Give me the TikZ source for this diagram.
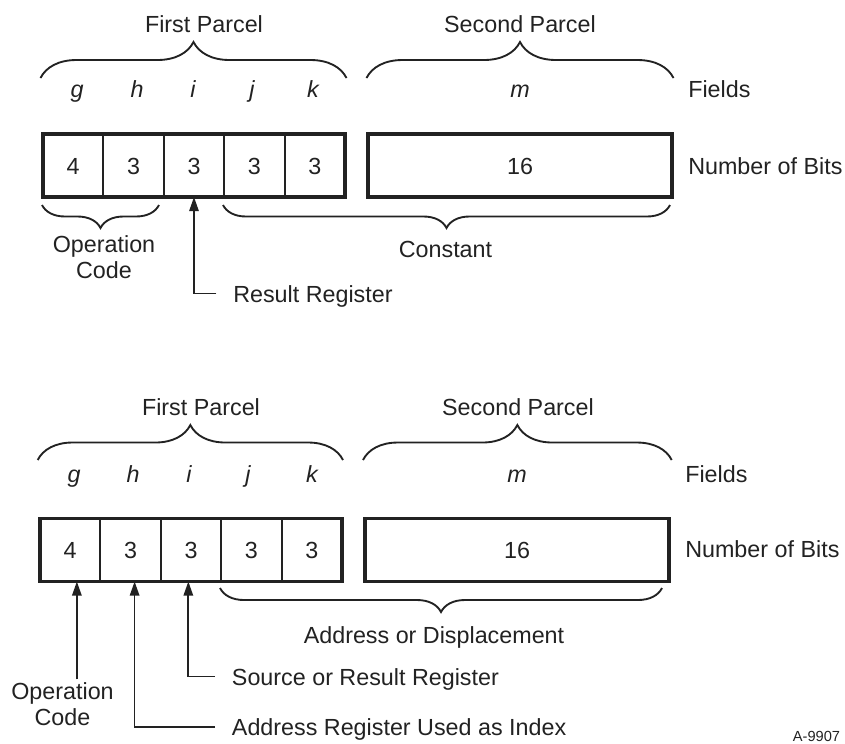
\documentclass[tikz,border=0pt]{standalone}
\usepackage{fontspec}
\setmainfont{Liberation Sans}
\usetikzlibrary{arrows.meta,decorations.pathreplacing}
\definecolor{ink}{HTML}{222222}

\tikzset{
  txt/.style={text=ink, inner sep=0.1cm, font=\fontsize{19.9pt}{22.2pt}\selectfont},
  lbl/.style={txt, text height=14.5pt, text depth=0pt},
  fld/.style={lbl, font=\fontsize{19.9pt}{22.2pt}\selectfont\itshape},
  cell/.style={lbl, draw=ink, line width=1.6pt, minimum width=1.812cm, minimum height=1.89cm, outer sep=0pt},
  boxline/.style={draw=ink, line width=2.6pt},
  brc/.style={draw=ink, line width=1.6pt, decorate, decoration={brace, amplitude=#1}},
  arr/.style={draw=ink, line width=1.5pt, -{Triangle[length=12pt, width=8pt]}},
}

\begin{document}
\begin{tikzpicture}[x=0.03cm, y=-0.03cm]
\useasboundingbox (0,0) rectangle (845,743);

% First format: parcels
\node[lbl] (fp1) at (204,23.5) {First Parcel};
\node[lbl] (sp1) at (520,23.5) {Second Parcel};
\draw[brc=1.08cm] (40.5,78) -- (346.5,78);
\draw[brc=1.08cm] (366.5,78) -- (673.5,78);

% First format: fields
\node[fld] (fg1) at (77,88.5) {g};
\node[fld] (fh1) at (137,88.5) {h};
\node[fld] (fi1) at (193,88.5) {i};
\node[fld] (fj1) at (252,88.5) {j};
\node[fld] (fk1) at (313,88.5) {k};
\node[fld] (fm1) at (520,88.5) {m};
\node[lbl, anchor=west] (fl1) at (684.7,89) {Fields};

% First format: bits
\node[cell] (g1) at (73.2,165.5) {4};
\node[cell] (h1) at (133.6,165.5) {3};
\node[cell] (i1) at (194,165.5) {3};
\node[cell] (j1) at (254.4,165.5) {3};
\node[cell] (k1) at (314.8,165.5) {3};
\draw[boxline] (g1.north west) rectangle (k1.south east);
\node[cell, boxline, minimum width=9.12cm] (m1) at (520,165.5) {16};
\node[lbl, anchor=west] (nb1) at (684.7,165.5) {Number of Bits};

% First format: meaning
\draw[brc=0.69cm] (159,205) -- (42,205);
\draw[brc=0.69cm] (670,205) -- (223,205);
\node[txt, align=center] (oc1) at (104,257.5) {Operation\\Code};
\node[lbl] (ct1) at (445.5,248.5) {Constant};
\node[lbl, anchor=west] (rr1) at (229.7,293.5) {Result Register};
\draw[arr, shorten <=0.4cm] (rr1.west) -| (i1.south);

% Second format: parcels
\node[lbl] (fp2) at (201,406.5) {First Parcel};
\node[lbl] (sp2) at (518,406.5) {Second Parcel};
\draw[brc=1.05cm] (37.7,460) -- (343,460);
\draw[brc=1.05cm] (363,460) -- (671.7,460);

% Second format: fields
\node[fld] (fg2) at (74,473.5) {g};
\node[fld] (fh2) at (133,473.5) {h};
\node[fld] (fi2) at (189,473.5) {i};
\node[fld] (fj2) at (248,473.5) {j};
\node[fld] (fk2) at (312,473.5) {k};
\node[fld] (fm2) at (517,473.5) {m};
\node[lbl, anchor=west] (fl2) at (681.7,474) {Fields};

% Second format: bits
\node[cell] (g2) at (70.2,550) {4};
\node[cell] (h2) at (130.6,550) {3};
\node[cell] (i2) at (191,550) {3};
\node[cell] (j2) at (251.4,550) {3};
\node[cell] (k2) at (311.8,550) {3};
\draw[boxline] (g2.north west) rectangle (k2.south east);
\node[cell, boxline, minimum width=9.12cm] (m2) at (517,550) {16};
\node[lbl, anchor=west] (nb2) at (681.7,548.5) {Number of Bits};

% Second format: meaning
\draw[brc=0.72cm] (662,588) -- (220,588);
\node[lbl] (ad2) at (434,634.5) {Address or Displacement};
\node[txt, align=center] (oc2) at (62.5,704.5) {Operation\\Code};
\node[lbl, anchor=west] (sr2) at (228.4,676.5) {Source or Result Register};
\node[lbl, anchor=west] (ar2) at (228.4,727) {Address Register Used as Index};
\draw[arr] ([xshift=0.2cm]g2.south |- oc2.north) -- ([xshift=0.2cm]g2.south);
\draw[arr, shorten <=0.4cm] (sr2.west) -| ([xshift=-0.08cm]i2.south);
\draw[arr, shorten <=0.4cm] (ar2.west) -| ([xshift=0.12cm]h2.south);

\node[txt, font=\fontsize{12.5pt}{15pt}\selectfont] (tag) at (816.5,736) {A-9907};
\end{tikzpicture}
\end{document}
